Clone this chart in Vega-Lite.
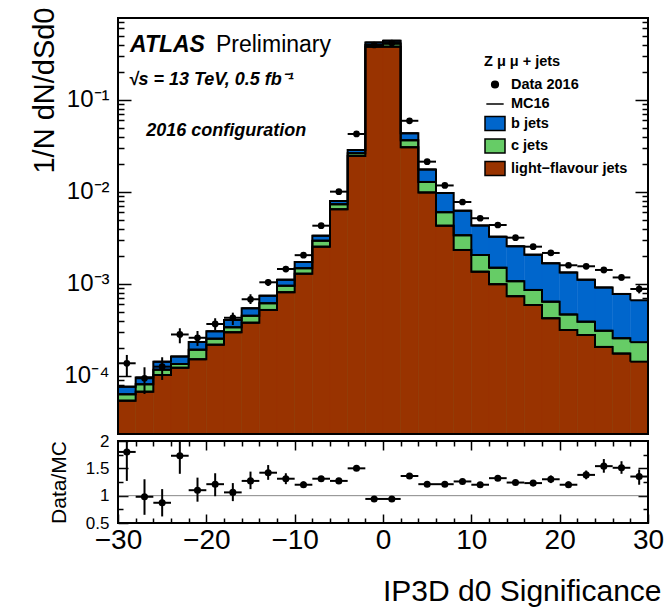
{
  "$schema": "https://vega.github.io/schema/vega-lite/v6.json",
  "background": "white",
  "padding": {"left": 29, "top": 7, "right": 5, "bottom": 5},
  "bounds": "flush",
  "config": {
    "font": "Liberation Sans",
    "view": {"stroke": null},
    "axis": {"domain": false, "grid": false, "zindex": 1, "tickColor": "black", "tickWidth": 1.5, "labelColor": "black", "titleColor": "black", "labelFont": "Liberation Sans", "titleFont": "Liberation Sans", "titleFontWeight": "normal", "labelFlush": false, "labelOverlap": false, "labelBound": false}
  },
  "datasets": {
    "mc": [
      {"x0": -30, "x1": -28, "l": 5.39e-5, "c": 0.93e-5, "b": 1.33e-5},
      {"x0": -28, "x1": -26, "l": 6.75e-5, "c": 1.37e-5, "b": 1.51e-5},
      {"x0": -26, "x1": -24, "l": 1.025e-4, "c": 1.46e-5, "b": 2.59e-5},
      {"x0": -24, "x1": -22, "l": 1.228e-4, "c": 1.22e-5, "b": 2.79e-5},
      {"x0": -22, "x1": -20, "l": 1.519e-4, "c": 4.12e-5, "b": 4.11e-5},
      {"x0": -20, "x1": -18, "l": 2.189e-4, "c": 3.54e-5, "b": 5.17e-5},
      {"x0": -18, "x1": -16, "l": 2.985e-4, "c": 3.97e-5, "b": 6.8e-5},
      {"x0": -16, "x1": -14, "l": 3.795e-4, "c": 7.16e-5, "b": 9.32e-5},
      {"x0": -14, "x1": -12, "l": 5.22e-4, "c": 9.5e-5, "b": 1.29e-4},
      {"x0": -12, "x1": -10, "l": 8.14e-4, "c": 1.42e-4, "b": 1.57e-4},
      {"x0": -10, "x1": -8, "l": 1.294e-3, "c": 1.88e-4, "b": 2.52e-4},
      {"x0": -8, "x1": -6, "l": 2.543e-3, "c": 4.13e-4, "b": 3.94e-4},
      {"x0": -6, "x1": -4, "l": 6.49e-3, "c": 8.6e-4, "b": 6.3e-4},
      {"x0": -4, "x1": -2, "l": 2.462e-2, "c": 1.72e-3, "b": 2.27e-3},
      {"x0": -2, "x1": 0, "l": 0.379, "c": 0.016, "b": 0.027},
      {"x0": 0, "x1": 2, "l": 0.38, "c": 0.03, "b": 0.031},
      {"x0": 2, "x1": 4, "l": 3.062e-2, "c": 5.86e-3, "b": 6.97e-3},
      {"x0": 4, "x1": 6, "l": 9.88e-3, "c": 2.97e-3, "b": 4.71e-3},
      {"x0": 6, "x1": 8, "l": 4.3e-3, "c": 1.73e-3, "b": 3.72e-3},
      {"x0": 8, "x1": 10, "l": 2.342e-3, "c": 1.04e-3, "b": 2.878e-3},
      {"x0": 10, "x1": 12, "l": 1.36e-3, "c": 7.06e-4, "b": 2.257e-3},
      {"x0": 12, "x1": 14, "l": 9.95e-4, "c": 5.05e-4, "b": 1.766e-3},
      {"x0": 14, "x1": 16, "l": 7.37e-4, "c": 3.35e-4, "b": 1.497e-3},
      {"x0": 16, "x1": 18, "l": 5.91e-4, "c": 2.7e-4, "b": 1.221e-3},
      {"x0": 18, "x1": 20, "l": 4.24e-4, "c": 2.18e-4, "b": 1.037e-3},
      {"x0": 20, "x1": 22, "l": 3.16e-4, "c": 1.5e-4, "b": 8.68e-4},
      {"x0": 22, "x1": 24, "l": 2.79e-4, "c": 1.1e-4, "b": 7.24e-4},
      {"x0": 24, "x1": 26, "l": 2.07e-4, "c": 1.03e-4, "b": 6.06e-4},
      {"x0": 26, "x1": 28, "l": 1.75e-4, "c": 8.2e-5, "b": 5.22e-4},
      {"x0": 28, "x1": 30, "l": 1.43e-4, "c": 9.0e-5, "b": 4.32e-4}
    ],
    "dat": [
      {"s": "Data 2016", "xc": -29, "x0": -30, "x1": -28, "y": 1.374e-4, "ylo": 9.83e-5, "yhi": 1.692e-4, "r": 1.8, "rlo": 1.27, "rhi": 2.35},
      {"s": "Data 2016", "xc": -27, "x0": -28, "x1": -26, "y": 9.44e-5, "ylo": 6.37e-5, "yhi": 1.243e-4, "r": 0.98, "rlo": 0.65, "rhi": 1.3},
      {"s": "Data 2016", "xc": -25, "x0": -26, "x1": -24, "y": 1.262e-4, "ylo": 9.05e-5, "yhi": 1.597e-4, "r": 0.87, "rlo": 0.62, "rhi": 1.12},
      {"s": "Data 2016", "xc": -23, "x0": -24, "x1": -22, "y": 2.825e-4, "ylo": 2.266e-4, "yhi": 3.3e-4, "r": 1.73, "rlo": 1.4, "rhi": 2.1},
      {"s": "Data 2016", "xc": -21, "x0": -22, "x1": -20, "y": 2.601e-4, "ylo": 2.119e-4, "yhi": 3.084e-4, "r": 1.1, "rlo": 0.89, "rhi": 1.33},
      {"s": "Data 2016", "xc": -19, "x0": -20, "x1": -18, "y": 3.674e-4, "ylo": 3.162e-4, "yhi": 4.239e-4, "r": 1.21, "rlo": 0.99, "rhi": 1.41},
      {"s": "Data 2016", "xc": -17, "x0": -18, "x1": -16, "y": 4.292e-4, "ylo": 3.583e-4, "yhi": 4.876e-4, "r": 1.06, "rlo": 0.9, "rhi": 1.23},
      {"s": "Data 2016", "xc": -15, "x0": -16, "x1": -14, "y": 6.82e-4, "ylo": 6.06e-4, "yhi": 7.73e-4, "r": 1.27, "rlo": 1.12, "rhi": 1.44},
      {"s": "Data 2016", "xc": -13, "x0": -14, "x1": -12, "y": 1.043e-3, "ylo": 9.51e-4, "yhi": 1.125e-3, "r": 1.42, "rlo": 1.29, "rhi": 1.56},
      {"s": "Data 2016", "xc": -11, "x0": -12, "x1": -10, "y": 1.455e-3, "ylo": 1.34e-3, "yhi": 1.57e-3, "r": 1.31, "rlo": 1.21, "rhi": 1.41},
      {"s": "Data 2016", "xc": -9, "x0": -10, "x1": -8, "y": 2.056e-3, "ylo": 1.95e-3, "yhi": 2.16e-3, "r": 1.2, "rlo": 1.14, "rhi": 1.26},
      {"s": "Data 2016", "xc": -7, "x0": -8, "x1": -6, "y": 4.3e-3, "ylo": 4.17e-3, "yhi": 4.43e-3, "r": 1.31, "rlo": 1.27, "rhi": 1.35},
      {"s": "Data 2016", "xc": -5, "x0": -6, "x1": -4, "y": 1.008e-2, "ylo": 9.88e-3, "yhi": 1.028e-2, "r": 1.27, "rlo": 1.24, "rhi": 1.3},
      {"s": "Data 2016", "xc": -3, "x0": -4, "x1": -2, "y": 4.27e-2, "ylo": 4.23e-2, "yhi": 4.31e-2, "r": 1.5, "rlo": 1.48, "rhi": 1.52},
      {"s": "Data 2016", "xc": -1, "x0": -2, "x1": 0, "y": 0.396, "ylo": 0.394, "yhi": 0.398, "r": 0.94, "rlo": 0.93, "rhi": 0.95},
      {"s": "Data 2016", "xc": 1, "x0": 0, "x1": 2, "y": 0.415, "ylo": 0.413, "yhi": 0.417, "r": 0.94, "rlo": 0.93, "rhi": 0.95},
      {"s": "Data 2016", "xc": 3, "x0": 2, "x1": 4, "y": 5.94e-2, "ylo": 5.88e-2, "yhi": 6.0e-2, "r": 1.36, "rlo": 1.34, "rhi": 1.38},
      {"s": "Data 2016", "xc": 5, "x0": 4, "x1": 6, "y": 2.135e-2, "ylo": 2.09e-2, "yhi": 2.18e-2, "r": 1.21, "rlo": 1.18, "rhi": 1.24},
      {"s": "Data 2016", "xc": 7, "x0": 6, "x1": 8, "y": 1.177e-2, "ylo": 1.15e-2, "yhi": 1.2e-2, "r": 1.21, "rlo": 1.18, "rhi": 1.24},
      {"s": "Data 2016", "xc": 9, "x0": 8, "x1": 10, "y": 7.78e-3, "ylo": 7.55e-3, "yhi": 8.01e-3, "r": 1.26, "rlo": 1.22, "rhi": 1.3},
      {"s": "Data 2016", "xc": 11, "x0": 10, "x1": 12, "y": 5.18e-3, "ylo": 4.97e-3, "yhi": 5.39e-3, "r": 1.2, "rlo": 1.15, "rhi": 1.25},
      {"s": "Data 2016", "xc": 13, "x0": 12, "x1": 14, "y": 4.377e-3, "ylo": 4.2e-3, "yhi": 4.55e-3, "r": 1.32, "rlo": 1.27, "rhi": 1.37},
      {"s": "Data 2016", "xc": 15, "x0": 14, "x1": 16, "y": 3.186e-3, "ylo": 3.09e-3, "yhi": 3.28e-3, "r": 1.24, "rlo": 1.2, "rhi": 1.28},
      {"s": "Data 2016", "xc": 17, "x0": 16, "x1": 18, "y": 2.543e-3, "ylo": 2.47e-3, "yhi": 2.62e-3, "r": 1.23, "rlo": 1.19, "rhi": 1.27},
      {"s": "Data 2016", "xc": 19, "x0": 18, "x1": 20, "y": 2.173e-3, "ylo": 2.06e-3, "yhi": 2.28e-3, "r": 1.3, "rlo": 1.23, "rhi": 1.37},
      {"s": "Data 2016", "xc": 21, "x0": 20, "x1": 22, "y": 1.597e-3, "ylo": 1.52e-3, "yhi": 1.68e-3, "r": 1.2, "rlo": 1.14, "rhi": 1.26},
      {"s": "Data 2016", "xc": 23, "x0": 22, "x1": 24, "y": 1.557e-3, "ylo": 1.48e-3, "yhi": 1.64e-3, "r": 1.38, "rlo": 1.3, "rhi": 1.46},
      {"s": "Data 2016", "xc": 25, "x0": 24, "x1": 26, "y": 1.42e-3, "ylo": 1.31e-3, "yhi": 1.53e-3, "r": 1.54, "rlo": 1.42, "rhi": 1.67},
      {"s": "Data 2016", "xc": 27, "x0": 26, "x1": 28, "y": 1.177e-3, "ylo": 1.09e-3, "yhi": 1.26e-3, "r": 1.51, "rlo": 1.4, "rhi": 1.63},
      {"s": "Data 2016", "xc": 29, "x0": 28, "x1": 30, "y": 8.82e-4, "ylo": 7.9e-4, "yhi": 9.7e-4, "r": 1.35, "rlo": 1.2, "rhi": 1.48}
    ]
  },
  "spacing": 7,
  "vconcat": [
    {
      "width": 530,
      "height": 416,
      "resolve": {"axis": {"y": "independent"}},
      "layer": [
        {
          "data": {"name": "mc"},
          "transform": [
            {"fold": ["l", "c", "b"], "as": ["flavour", "val"]},
            {"stack": "val", "groupby": ["x0"], "sort": [{"field": "flavour", "order": "descending"}], "as": ["lo", "hi"]},
            {"filter": "datum.flavour == 'b'"}
          ],
          "mark": {"type": "bar", "color": "#0066cc", "stroke": "#0066cc", "strokeWidth": 0.5},
          "encoding": {
            "x": {"field": "x0", "type": "quantitative", "scale": {"domain": [-30, 30], "nice": false, "zero": false}, "axis": null},
            "x2": {"field": "x1"},
            "y": {"field": "hi", "type": "quantitative", "stack": null,
              "scale": {"type": "log", "domain": [2.34e-5, 0.778], "nice": false},
              "axis": {"orient": "left", "values": [0.0001, 0.001, 0.01, 0.1], "tickSize": -13, "labelFontSize": 24, "labelPadding": 22,
                "labelExpr": "datum.value < 0.0005 ? '10⁻⁴' : datum.value < 0.005 ? '10⁻³' : datum.value < 0.05 ? '10⁻²' : '10⁻¹'",
                "title": "1/N dN/dSd0", "titleFontSize": 29, "titleAngle": -90, "titleAlign": "right", "titleBaseline": "alphabetic", "titleX": -65, "titleY": -11}},
            "y2": {"datum": 2.34e-5}
          }
        },
        {
          "data": {"name": "mc"},
          "transform": [
            {"fold": ["l", "c", "b"], "as": ["flavour", "val"]},
            {"stack": "val", "groupby": ["x0"], "sort": [{"field": "flavour", "order": "descending"}], "as": ["lo", "hi"]},
            {"filter": "datum.flavour == 'c'"}
          ],
          "mark": {"type": "bar", "color": "#66cc66", "stroke": "#66cc66", "strokeWidth": 0.5},
          "encoding": {
            "x": {"field": "x0", "type": "quantitative", "axis": null},
            "x2": {"field": "x1"},
            "y": {"field": "hi", "type": "quantitative", "stack": null,
              "axis": {"orient": "left", "values": [3e-5, 4e-5, 5e-5, 6e-5, 7e-5, 8e-5, 9e-5, 2e-4, 3e-4, 4e-4, 5e-4, 6e-4, 7e-4, 8e-4, 9e-4, 2e-3, 3e-3, 4e-3, 5e-3, 6e-3, 7e-3, 8e-3, 9e-3, 2e-2, 3e-2, 4e-2, 5e-2, 6e-2, 7e-2, 8e-2, 9e-2, 0.2, 0.3, 0.4, 0.5, 0.6, 0.7], "tickSize": -6, "labels": false, "title": null}},
            "y2": {"datum": 2.34e-5}
          }
        },
        {
          "data": {"name": "mc"},
          "transform": [
            {"fold": ["l", "c", "b"], "as": ["flavour", "val"]},
            {"stack": "val", "groupby": ["x0"], "sort": [{"field": "flavour", "order": "descending"}], "as": ["lo", "hi"]},
            {"filter": "datum.flavour == 'l'"}
          ],
          "mark": {"type": "bar", "color": "#993300", "stroke": "#993300", "strokeWidth": 0.5},
          "encoding": {
            "x": {"field": "x0", "type": "quantitative", "axis": null},
            "x2": {"field": "x1"},
            "y": {"field": "hi", "type": "quantitative", "stack": null,
              "axis": {"orient": "right", "values": [0.0001, 0.001, 0.01, 0.1], "tickSize": -13, "labels": false, "title": null}},
            "y2": {"datum": 2.34e-5}
          }
        },
        {
          "data": {"name": "mc"},
          "transform": [
            {"fold": ["l", "c", "b"], "as": ["flavour", "val"]},
            {"stack": "val", "groupby": ["x0"], "sort": [{"field": "flavour", "order": "descending"}], "as": ["lo", "hi"]}
          ],
          "mark": {"type": "line", "interpolate": "step-after", "color": "black", "strokeWidth": 2},
          "encoding": {
            "x": {"field": "x0", "type": "quantitative", "axis": null},
            "y": {"field": "hi", "type": "quantitative", "stack": null,
              "axis": {"orient": "right", "values": [3e-5, 4e-5, 5e-5, 6e-5, 7e-5, 8e-5, 9e-5, 2e-4, 3e-4, 4e-4, 5e-4, 6e-4, 7e-4, 8e-4, 9e-4, 2e-3, 3e-3, 4e-3, 5e-3, 6e-3, 7e-3, 8e-3, 9e-3, 2e-2, 3e-2, 4e-2, 5e-2, 6e-2, 7e-2, 8e-2, 9e-2, 0.2, 0.3, 0.4, 0.5, 0.6, 0.7], "tickSize": -6, "labels": false, "title": null}},
            "detail": {"field": "flavour"}
          }
        },
        {
          "data": {"name": "mc"},
          "transform": [
            {"fold": ["l", "c", "b"], "as": ["flavour", "val"]},
            {"stack": "val", "groupby": ["x0"], "sort": [{"field": "flavour", "order": "descending"}], "as": ["lo", "hi"]}
          ],
          "mark": {"type": "rule", "color": "black", "strokeWidth": 2},
          "encoding": {
            "x": {"field": "x0", "type": "quantitative", "axis": null},
            "x2": {"field": "x1"},
            "y": {"field": "hi", "type": "quantitative", "stack": null, "axis": null}
          }
        },
        {
          "data": {"name": "dat"},
          "mark": {"type": "rule", "color": "black", "strokeWidth": 2},
          "encoding": {
            "x": {"field": "x0", "type": "quantitative", "axis": null},
            "x2": {"field": "x1"},
            "y": {"field": "y", "type": "quantitative", "axis": null}
          }
        },
        {
          "data": {"name": "dat"},
          "mark": {"type": "rule", "color": "black", "strokeWidth": 2},
          "encoding": {
            "x": {"field": "xc", "type": "quantitative", "axis": null},
            "y": {"field": "ylo", "type": "quantitative", "axis": null},
            "y2": {"field": "yhi"}
          }
        },
        {
          "data": {"name": "dat"},
          "mark": {"type": "point", "filled": true, "opacity": 1, "size": 45},
          "encoding": {
            "x": {"field": "xc", "type": "quantitative", "axis": null},
            "y": {"field": "y", "type": "quantitative", "axis": null},
            "color": {"field": "s", "type": "nominal",
              "scale": {"domain": ["Data 2016", "MC16", "b jets", "c jets", "light−flavour jets"], "range": ["black", "black", "#0066cc", "#66cc66", "#993300"]},
              "legend": {"orient": "none", "legendX": 366, "legendY": 37, "title": "Z μ μ  + jets", "titleFont": "Liberation Sans", "titleFontSize": 14.5, "titleFontWeight": "bold", "titleColor": "black", "titlePadding": 4,
                "labelFont": "Liberation Sans", "labelFontSize": 14.5, "labelFontWeight": "bold", "labelColor": "black", "labelOffset": 5, "rowPadding": 1.5, "padding": 0,
                "symbolStrokeColor": "black", "symbolStrokeWidth": 1.5, "symbolOpacity": 1, "symbolSize": 400,
                "encode": {"symbols": {"update": {"stroke": {"value": "black"}, "strokeWidth": {"value": 1.5}, "opacity": {"value": 1},
                  "size": {"signal": "datum.value == 'Data 2016' ? 45 : datum.value == 'MC16' ? 300 : 400"}}}}}},
            "shape": {"field": "s", "type": "nominal",
              "scale": {"domain": ["Data 2016", "MC16", "b jets", "c jets", "light−flavour jets"], "range": ["circle", "stroke", "M-1,-0.7H1V0.7H-1Z", "M-1,-0.7H1V0.7H-1Z", "M-1,-0.7H1V0.7H-1Z"]}}
          }
        },
        {
          "data": {"values": [{}]},
          "mark": {"type": "text", "text": "ATLAS", "fontSize": 23, "fontWeight": "bold", "fontStyle": "italic", "align": "left", "baseline": "alphabetic", "color": "black"},
          "encoding": {"x": {"datum": -28.64, "type": "quantitative", "axis": null}, "y": {"datum": 0.335, "type": "quantitative", "axis": null}}
        },
        {
          "data": {"values": [{}]},
          "mark": {"type": "text", "text": "Preliminary", "fontSize": 23, "align": "left", "baseline": "alphabetic", "color": "black"},
          "encoding": {"x": {"datum": -18.91, "type": "quantitative", "axis": null}, "y": {"datum": 0.335, "type": "quantitative", "axis": null}}
        },
        {
          "data": {"values": [{}]},
          "mark": {"type": "text", "text": "√s = 13 TeV, 0.5 fb⁻¹", "fontSize": 18, "fontWeight": "bold", "fontStyle": "italic", "align": "left", "baseline": "alphabetic", "color": "black"},
          "encoding": {"x": {"datum": -28.8, "type": "quantitative", "axis": null}, "y": {"datum": 0.1439, "type": "quantitative", "axis": null}}
        },
        {
          "data": {"values": [{}]},
          "mark": {"type": "text", "text": "2016 configuration", "fontSize": 18, "fontWeight": "bold", "fontStyle": "italic", "align": "left", "baseline": "alphabetic", "color": "black"},
          "encoding": {"x": {"datum": -26.81, "type": "quantitative", "axis": null}, "y": {"datum": 0.0401, "type": "quantitative", "axis": null}}
        },
        {
          "data": {"values": [{}]},
          "mark": {"type": "rect", "filled": false, "stroke": "black", "strokeWidth": 2},
          "encoding": {
            "x": {"datum": -30, "type": "quantitative", "axis": null},
            "x2": {"datum": 30},
            "y": {"datum": 2.34e-5, "type": "quantitative", "axis": null},
            "y2": {"datum": 0.778}
          }
        }
      ]
    },
    {
      "width": 530,
      "height": 82,
      "resolve": {"axis": {"x": "independent", "y": "independent"}},
      "layer": [
        {
          "data": {"values": [{}]},
          "mark": {"type": "rule", "color": "#888888", "strokeWidth": 1},
          "encoding": {
            "x": {"datum": -30, "type": "quantitative", "scale": {"domain": [-30, 30], "nice": false, "zero": false},
              "axis": {"orient": "bottom", "values": [-30, -20, -10, 0, 10, 20, 30], "tickSize": -9, "labelFontSize": 28, "labelPadding": 12,
                "title": "IP3D d0 Significance", "titleFontSize": 30, "titleAlign": "right", "titleBaseline": "alphabetic", "titleX": 543, "titleY": 77}},
            "x2": {"datum": 30},
            "y": {"datum": 1, "type": "quantitative", "scale": {"domain": [0.5, 2], "nice": false, "zero": false},
              "axis": {"orient": "left", "values": [0.5, 1, 1.5, 2], "format": "~g", "tickSize": -10, "labelFontSize": 17, "labelPadding": 19,
                "title": "Data/MC", "titleFontSize": 21, "titleAngle": -90, "titleBaseline": "alphabetic", "titleX": -53}}
          }
        },
        {
          "data": {"name": "dat"},
          "mark": {"type": "rule", "color": "black", "strokeWidth": 2},
          "encoding": {
            "x": {"field": "x0", "type": "quantitative",
              "axis": {"orient": "bottom", "values": [-28, -26, -24, -22, -18, -16, -14, -12, -8, -6, -4, -2, 2, 4, 6, 8, 12, 14, 16, 18, 22, 24, 26, 28], "tickSize": -5, "labels": false, "title": null}},
            "x2": {"field": "x1"},
            "y": {"field": "r", "type": "quantitative",
              "axis": {"orient": "left", "values": [0.75, 1.25, 1.75], "tickSize": -5, "labels": false, "title": null}}
          }
        },
        {
          "data": {"name": "dat"},
          "mark": {"type": "rule", "color": "black", "strokeWidth": 2, "clip": true},
          "encoding": {
            "x": {"field": "xc", "type": "quantitative",
              "axis": {"orient": "top", "values": [-20, -10, 0, 10, 20], "tickSize": -9, "labels": false, "title": null}},
            "y": {"field": "rlo", "type": "quantitative",
              "axis": {"orient": "right", "values": [1, 1.5], "tickSize": -10, "labels": false, "title": null}},
            "y2": {"field": "rhi"}
          }
        },
        {
          "data": {"name": "dat"},
          "mark": {"type": "point", "filled": true, "opacity": 1, "color": "black", "size": 50},
          "encoding": {
            "x": {"field": "xc", "type": "quantitative",
              "axis": {"orient": "top", "values": [-28, -26, -24, -22, -18, -16, -14, -12, -8, -6, -4, -2, 2, 4, 6, 8, 12, 14, 16, 18, 22, 24, 26, 28], "tickSize": -5, "labels": false, "title": null}},
            "y": {"field": "r", "type": "quantitative",
              "axis": {"orient": "right", "values": [0.75, 1.25, 1.75], "tickSize": -5, "labels": false, "title": null}}
          }
        },
        {
          "data": {"values": [{}]},
          "mark": {"type": "rect", "filled": false, "stroke": "black", "strokeWidth": 2},
          "encoding": {
            "x": {"datum": -30, "type": "quantitative", "axis": null},
            "x2": {"datum": 30},
            "y": {"datum": 0.5, "type": "quantitative", "axis": null},
            "y2": {"datum": 2}
          }
        }
      ]
    }
  ]
}
